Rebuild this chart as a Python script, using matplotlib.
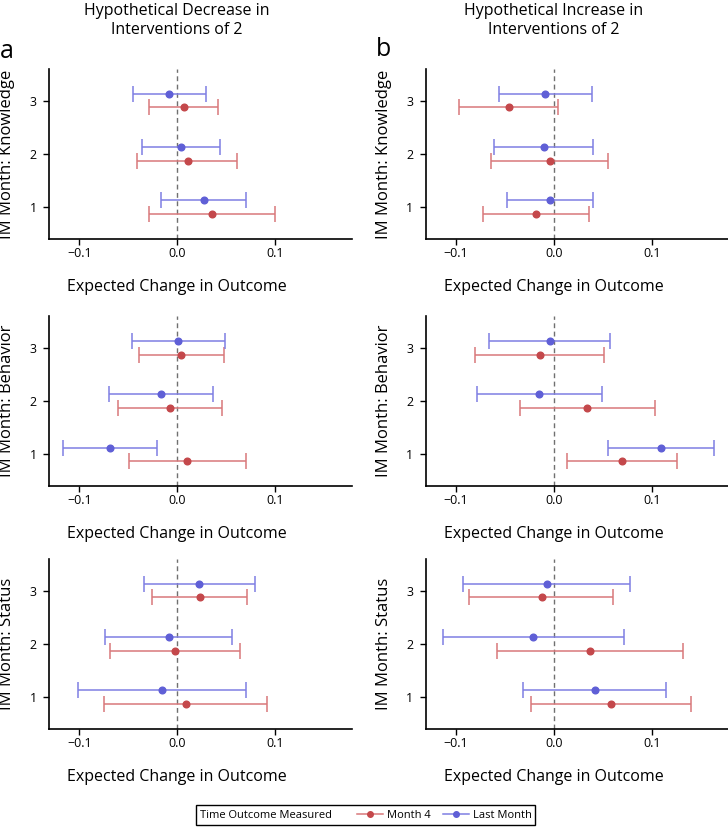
import numpy as np
import matplotlib
matplotlib.use('Agg')
import matplotlib.pyplot as plt
from matplotlib.lines import Line2D
from matplotlib.patches import Rectangle
from matplotlib.transforms import blended_transform_factory

plt.rcParams['font.family'] = ['Open Sans', 'DejaVu Sans']

# IM month 1, 2, 3
im_month = np.array([1, 2, 3])

# 假设减少干预 - Knowledge
dec_know_m4_est = [0.0352, 0.0106, 0.0065]
dec_know_m4_lo = [-0.029, -0.041, -0.029]
dec_know_m4_hi = [0.0997, 0.0614, 0.0416]
dec_know_lm_est = [0.027, 0.0038, -0.0082]
dec_know_lm_lo = [-0.0167, -0.0358, -0.045]
dec_know_lm_hi = [0.0706, 0.0433, 0.029]

# 假设增加干预 - Knowledge
inc_know_m4_est = [-0.0184, -0.0041, -0.0459]
inc_know_m4_lo = [-0.0724, -0.0639, -0.0966]
inc_know_m4_hi = [0.0364, 0.0558, 0.0048]
inc_know_lm_est = [-0.0041, -0.0102, -0.0088]
inc_know_lm_lo = [-0.048, -0.0609, -0.0558]
inc_know_lm_hi = [0.0405, 0.0405, 0.0388]

# Behavior
dec_beh_m4_est = [0.0102, -0.0075, 0.0037]
dec_beh_m4_lo = [-0.0493, -0.0605, -0.0395]
dec_beh_m4_hi = [0.070, 0.0459, 0.0473]
dec_beh_lm_est = [-0.0687, -0.017, 0.001]
dec_beh_lm_lo = [-0.1167, -0.0701, -0.0459]
dec_beh_lm_hi = [-0.0207, 0.036, 0.0483]

inc_beh_m4_est = [0.0694, 0.0344, -0.0139]
inc_beh_m4_lo = [0.0136, -0.0347, -0.0799]
inc_beh_m4_hi = [0.1255, 0.103, 0.0514]
inc_beh_lm_est = [0.1095, -0.015, -0.0041]
inc_beh_lm_lo = [0.0558, -0.0779, -0.0656]
inc_beh_lm_hi = [0.1636, 0.049, 0.0578]

# Status
dec_stat_m4_est = [0.0085, -0.0024, 0.0228]
dec_stat_m4_lo = [-0.0748, -0.0687, -0.0259]
dec_stat_m4_hi = [0.0915, 0.064, 0.0714]
dec_stat_lm_est = [-0.0156, -0.0088, 0.0224]
dec_stat_lm_lo = [-0.1014, -0.0735, -0.0344]
dec_stat_lm_hi = [0.070, 0.0558, 0.0793]

inc_stat_m4_est = [0.0582, 0.0371, -0.0122]
inc_stat_m4_lo = [-0.0235, -0.0578, -0.0861]
inc_stat_m4_hi = [0.1401, 0.1323, 0.0609]
inc_stat_lm_est = [0.0418, -0.0207, -0.0071]
inc_stat_lm_lo = [-0.0313, -0.1133, -0.0922]
inc_stat_lm_hi = [0.115, 0.0714, 0.0779]

x_ticks = [-0.1, 0.0, 0.1]
x_ticklabels = ['\u22120.1', '0.0', '0.1']
col_titles = ['Hypothetical Decrease in\nInterventions of 2',
              'Hypothetical Increase in\nInterventions of 2']
row_labels = ['IM Month: Knowledge', 'IM Month: Behavior', 'IM Month: Status']
series_names = ['Month 4', 'Last Month']

red_line = '#d9787a'
red_dot = '#c4484b'
blue_line = '#7f7fe3'
blue_dot = '#5f5fd6'


def draw_series(ax, y, est, lo, hi, lc, dc):
    est = np.array(est)
    err = [est - np.array(lo), np.array(hi) - est]
    ax.errorbar(est, y, xerr=err, fmt='none', ecolor=lc, elinewidth=1.1,
                capsize=6, capthick=1.1, zorder=2)
    ax.plot(est, y, 'o', color=dc, markersize=4.8, zorder=3)


def draw_panel(ax, m4, lm, ylabel):
    ax.axvline(0, color='#707070', lw=1.0, linestyle=(0, (3.5, 2.5)), zorder=1)
    draw_series(ax, im_month - 0.125, *m4, red_line, red_dot)
    draw_series(ax, im_month + 0.125, *lm, blue_line, blue_dot)
    ax.set_xlim(-0.1306, 0.178)
    ax.set_ylim(0.4, 3.6)
    ax.set_xticks(x_ticks)
    ax.set_xticklabels(x_ticklabels)
    ax.set_yticks(im_month)
    for s in ['top', 'right']:
        ax.spines[s].set_visible(False)
    for s in ['left', 'bottom']:
        ax.spines[s].set_linewidth(1.2)
    ax.tick_params(axis='both', length=4, width=1.0, labelsize=9)
    ax.tick_params(axis='x', pad=1.5)
    ax.tick_params(axis='y', pad=5)
    ax.set_ylabel(ylabel, fontsize=12)
    ax.yaxis.set_label_coords(-0.112, 0.5)
    trans = blended_transform_factory(ax.transData, ax.transAxes)
    ax.text(0, -0.282, 'Expected Change in Outcome', transform=trans,
            ha='center', va='center', fontsize=11.5)


fig = plt.figure(figsize=(7.28, 8.27), dpi=100)

panels = [
    [((dec_know_m4_est, dec_know_m4_lo, dec_know_m4_hi), (dec_know_lm_est, dec_know_lm_lo, dec_know_lm_hi)),
     ((inc_know_m4_est, inc_know_m4_lo, inc_know_m4_hi), (inc_know_lm_est, inc_know_lm_lo, inc_know_lm_hi))],
    [((dec_beh_m4_est, dec_beh_m4_lo, dec_beh_m4_hi), (dec_beh_lm_est, dec_beh_lm_lo, dec_beh_lm_hi)),
     ((inc_beh_m4_est, inc_beh_m4_lo, inc_beh_m4_hi), (inc_beh_lm_est, inc_beh_lm_lo, inc_beh_lm_hi))],
    [((dec_stat_m4_est, dec_stat_m4_lo, dec_stat_m4_hi), (dec_stat_lm_est, dec_stat_lm_lo, dec_stat_lm_hi)),
     ((inc_stat_m4_est, inc_stat_m4_lo, inc_stat_m4_hi), (inc_stat_lm_est, inc_stat_lm_lo, inc_stat_lm_hi))],
]

lefts = [0.0677, 0.5848]
bottoms = [0.711, 0.4123, 0.1185]
w, h = 0.4153, 0.2056

for r in range(3):
    for c in range(2):
        ax = fig.add_axes([lefts[c], bottoms[r], w, h])
        m4, lm = panels[r][c]
        draw_panel(ax, m4, lm, row_labels[r])
        if r == 0:
            trans = blended_transform_factory(ax.transData, fig.transFigure)
            ax.text(0, 1 - 20.5 / 827, col_titles[c], transform=trans,
                    ha='center', va='center', fontsize=11.5, linespacing=1.3)

fig.text(0 / 728, 1 - 52 / 827, 'a', fontsize=18, ha='left', va='center')
fig.text(376 / 728, 1 - 49 / 827, 'b', fontsize=18, ha='left', va='center')

# 图例
fig.patches.append(Rectangle((196 / 728, 1 - 825 / 827), 339 / 728, 20 / 827,
                             transform=fig.transFigure, fill=False,
                             edgecolor='black', linewidth=1.0))
fig.text(200 / 728, 1 - 815 / 827, 'Time Outcome Measured', fontsize=8,
         ha='left', va='center')
handles = [Line2D([], [], color=red_line, lw=1.1, marker='o', markersize=4,
                  markerfacecolor=red_dot, markeredgecolor=red_dot),
           Line2D([], [], color=blue_line, lw=1.1, marker='o', markersize=4,
                  markerfacecolor=blue_dot, markeredgecolor=blue_dot)]
fig.legend(handles, series_names, loc='center left',
           bbox_to_anchor=(357 / 728, 1 - 815 / 827), ncol=2, frameon=False,
           fontsize=8, handlelength=2.3, handletextpad=0.4, columnspacing=1.1,
           borderpad=0, borderaxespad=0)

fig.savefig('out.png', dpi=100)
